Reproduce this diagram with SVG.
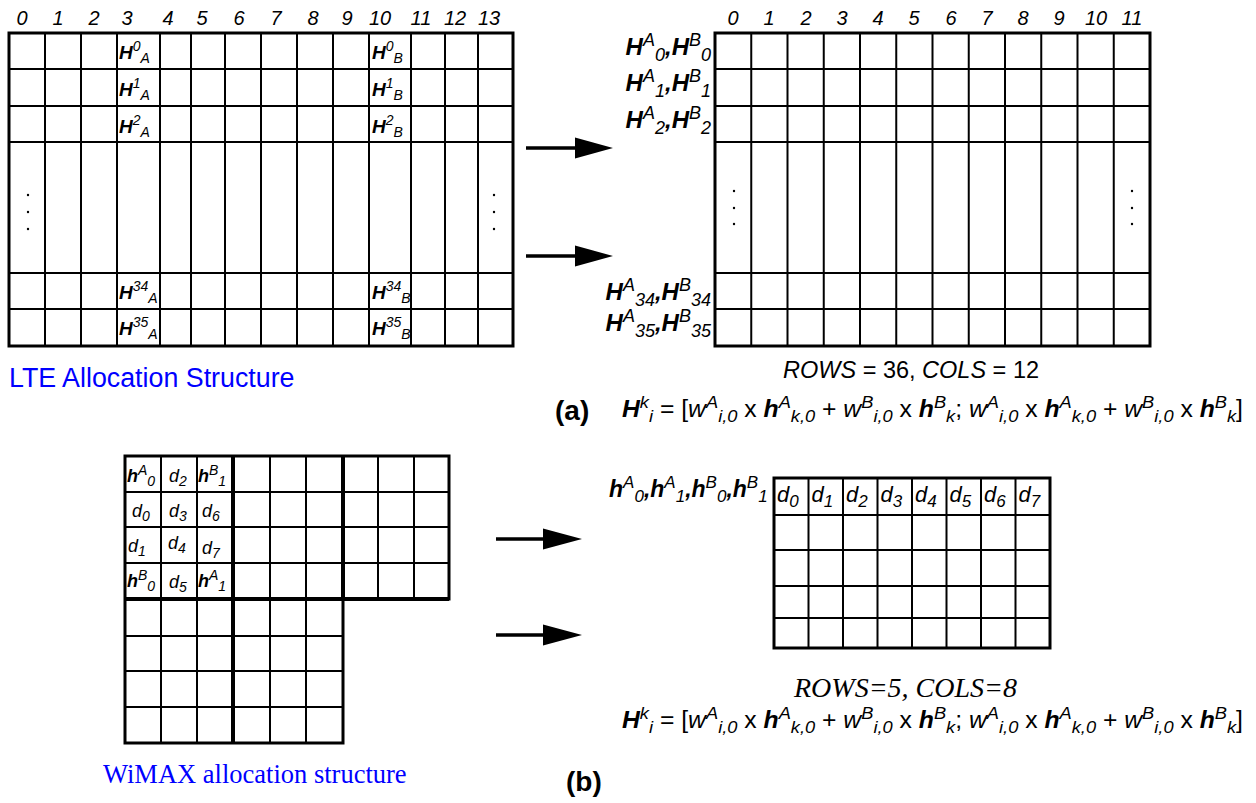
<svg xmlns="http://www.w3.org/2000/svg" width="1256" height="803" viewBox="0 0 1256 803">
<style>
.bg{fill:#fff}
.gl{stroke:#000;stroke-width:2;fill:none}
.ol{stroke:#000;stroke-width:3;fill:none}
.tk{stroke:#000;stroke-width:4;fill:none}
text{font-family:"Liberation Sans",Arial,sans-serif;fill:#000}
.hd{font-size:20px;font-style:italic}
.bi{font-weight:bold;font-style:italic}
.it{font-style:italic}
.cl{font-size:19px}
.cs{font-size:14px;font-style:italic;font-weight:normal}
.wl{font-size:18px}
.ws{font-size:14px;font-style:italic;font-weight:normal}
.rl{font-size:24px}
.rs{font-size:18px;font-style:italic;font-weight:normal}
.hl{font-size:23px}
.hs{font-size:17px;font-style:italic;font-weight:normal}
.dl{font-size:22px;font-style:italic}
.ds{font-size:17px}
.fm{font-size:23px}
.fs{font-size:17px;font-style:italic;font-weight:normal}
.lab{font-size:28px;font-weight:bold}
.blue{fill:#0000ff}
.serif{font-family:"Liberation Serif","Times New Roman",serif}
.dot{fill:#000}
.arr{stroke:#000;stroke-width:3.5}
</style>
<rect class="bg" x="0" y="0" width="1256" height="803"/>

<g id="lte-grid">
<rect class="ol" x="9" y="33" width="504" height="313"/>
<path class="gl" d="M45,33V346M81,33V346M117,33V346M160,33V346M191,33V346M225,33V346M261,33V346M297,33V346M333,33V346M369,33V346M411,33V346M445,33V346M478,33V346M9,69H513M9,106H513M9,142H513M9,273H513M9,309H513"/>
<text x="22" y="25" text-anchor="middle" class="hd">0</text>
<text x="58" y="25" text-anchor="middle" class="hd">1</text>
<text x="94" y="25" text-anchor="middle" class="hd">2</text>
<text x="127" y="25" text-anchor="middle" class="hd">3</text>
<text x="168" y="25" text-anchor="middle" class="hd">4</text>
<text x="202" y="25" text-anchor="middle" class="hd">5</text>
<text x="239" y="25" text-anchor="middle" class="hd">6</text>
<text x="276" y="25" text-anchor="middle" class="hd">7</text>
<text x="313" y="25" text-anchor="middle" class="hd">8</text>
<text x="347" y="25" text-anchor="middle" class="hd">9</text>
<text x="380" y="25" text-anchor="middle" class="hd">10</text>
<text x="421" y="25" text-anchor="middle" class="hd">11</text>
<text x="455" y="25" text-anchor="middle" class="hd">12</text>
<text x="489" y="25" text-anchor="middle" class="hd">13</text>
<text class="cl" x="119" y="59"><tspan class="bi">H</tspan><tspan class="cs" dy="-8">0</tspan><tspan class="cs" dy="12">A</tspan></text>
<text class="cl" x="119" y="96"><tspan class="bi">H</tspan><tspan class="cs" dy="-8">1</tspan><tspan class="cs" dy="12">A</tspan></text>
<text class="cl" x="119" y="133"><tspan class="bi">H</tspan><tspan class="cs" dy="-8">2</tspan><tspan class="cs" dy="12">A</tspan></text>
<text class="cl" x="119" y="299"><tspan class="bi">H</tspan><tspan class="cs" dy="-8">34</tspan><tspan class="cs" dy="12">A</tspan></text>
<text class="cl" x="119" y="335"><tspan class="bi">H</tspan><tspan class="cs" dy="-8">35</tspan><tspan class="cs" dy="12">A</tspan></text>
<text class="cl" x="372" y="59"><tspan class="bi">H</tspan><tspan class="cs" dy="-8">0</tspan><tspan class="cs" dy="12">B</tspan></text>
<text class="cl" x="372" y="96"><tspan class="bi">H</tspan><tspan class="cs" dy="-8">1</tspan><tspan class="cs" dy="12">B</tspan></text>
<text class="cl" x="372" y="133"><tspan class="bi">H</tspan><tspan class="cs" dy="-8">2</tspan><tspan class="cs" dy="12">B</tspan></text>
<text class="cl" x="372" y="299"><tspan class="bi">H</tspan><tspan class="cs" dy="-8">34</tspan><tspan class="cs" dy="12">B</tspan></text>
<text class="cl" x="372" y="335"><tspan class="bi">H</tspan><tspan class="cs" dy="-8">35</tspan><tspan class="cs" dy="12">B</tspan></text>
<circle class="dot" cx="28" cy="195" r="1.2"/><circle class="dot" cx="28" cy="212" r="1.2"/><circle class="dot" cx="28" cy="229" r="1.2"/>
<circle class="dot" cx="494" cy="195" r="1.2"/><circle class="dot" cx="494" cy="212" r="1.2"/><circle class="dot" cx="494" cy="229" r="1.2"/>
<text x="9" y="387" class="blue" font-size="26.8">LTE Allocation Structure</text>
</g>

<g id="lte-result">
<rect class="ol" x="715" y="33" width="435" height="313"/>
<path class="gl" d="M751.25,33V346M787.5,33V346M823.75,33V346M860,33V346M896.25,33V346M932.5,33V346M968.75,33V346M1005,33V346M1041.25,33V346M1077.5,33V346M1113.75,33V346M715,69H1150M715,106H1150M715,142H1150M715,273H1150M715,309H1150"/>
<text x="733" y="25" text-anchor="middle" class="hd">0</text>
<text x="769" y="25" text-anchor="middle" class="hd">1</text>
<text x="806" y="25" text-anchor="middle" class="hd">2</text>
<text x="842" y="25" text-anchor="middle" class="hd">3</text>
<text x="878" y="25" text-anchor="middle" class="hd">4</text>
<text x="914" y="25" text-anchor="middle" class="hd">5</text>
<text x="951" y="25" text-anchor="middle" class="hd">6</text>
<text x="987" y="25" text-anchor="middle" class="hd">7</text>
<text x="1023" y="25" text-anchor="middle" class="hd">8</text>
<text x="1059" y="25" text-anchor="middle" class="hd">9</text>
<text x="1096" y="25" text-anchor="middle" class="hd">10</text>
<text x="1132" y="25" text-anchor="middle" class="hd">11</text>
<text class="rl" x="711" y="55" text-anchor="end"><tspan class="bi">H</tspan><tspan class="rs" dy="-9">A</tspan><tspan class="rs" dy="15">0</tspan><tspan class="bi" dy="-6">,H</tspan><tspan class="rs" dy="-9">B</tspan><tspan class="rs" dy="15">0</tspan></text>
<text class="rl" x="711" y="91" text-anchor="end"><tspan class="bi">H</tspan><tspan class="rs" dy="-9">A</tspan><tspan class="rs" dy="15">1</tspan><tspan class="bi" dy="-6">,H</tspan><tspan class="rs" dy="-9">B</tspan><tspan class="rs" dy="15">1</tspan></text>
<text class="rl" x="711" y="128" text-anchor="end"><tspan class="bi">H</tspan><tspan class="rs" dy="-9">A</tspan><tspan class="rs" dy="15">2</tspan><tspan class="bi" dy="-6">,H</tspan><tspan class="rs" dy="-9">B</tspan><tspan class="rs" dy="15">2</tspan></text>
<text class="rl" x="711" y="300" text-anchor="end"><tspan class="bi">H</tspan><tspan class="rs" dy="-9">A</tspan><tspan class="rs" dy="15">34</tspan><tspan class="bi" dy="-6">,H</tspan><tspan class="rs" dy="-9">B</tspan><tspan class="rs" dy="15">34</tspan></text>
<text class="rl" x="711" y="331" text-anchor="end"><tspan class="bi">H</tspan><tspan class="rs" dy="-9">A</tspan><tspan class="rs" dy="15">35</tspan><tspan class="bi" dy="-6">,H</tspan><tspan class="rs" dy="-9">B</tspan><tspan class="rs" dy="15">35</tspan></text>
<circle class="dot" cx="734" cy="191" r="1.2"/><circle class="dot" cx="734" cy="208" r="1.2"/><circle class="dot" cx="734" cy="224" r="1.2"/>
<circle class="dot" cx="1132" cy="191" r="1.2"/><circle class="dot" cx="1132" cy="208" r="1.2"/><circle class="dot" cx="1132" cy="224" r="1.2"/>
<text x="783" y="378" font-size="23.5"><tspan class="it">ROWS</tspan> = 36, <tspan class="it">COLS</tspan> = 12</text>
<text x="555" y="420" class="lab">(a)</text>
<text class="fm" x="622" y="417" textLength="621" lengthAdjust="spacingAndGlyphs"><tspan class="bi">H</tspan><tspan class="fs" dy="-9">k</tspan><tspan class="fs" dy="14">i</tspan><tspan dy="-5"> = [</tspan><tspan class="it">w</tspan><tspan class="fs" dy="-9">A</tspan><tspan class="fs" dy="14">i,0</tspan><tspan dy="-5"> x </tspan><tspan class="bi">h</tspan><tspan class="fs" dy="-9">A</tspan><tspan class="fs" dy="14">k,0</tspan><tspan dy="-5"> + </tspan><tspan class="it">w</tspan><tspan class="fs" dy="-9">B</tspan><tspan class="fs" dy="14">i,0</tspan><tspan dy="-5"> x </tspan><tspan class="bi">h</tspan><tspan class="fs" dy="-9">B</tspan><tspan class="fs" dy="14">k</tspan><tspan dy="-5">; </tspan><tspan class="it">w</tspan><tspan class="fs" dy="-9">A</tspan><tspan class="fs" dy="14">i,0</tspan><tspan dy="-5"> x </tspan><tspan class="bi">h</tspan><tspan class="fs" dy="-9">A</tspan><tspan class="fs" dy="14">k,0</tspan><tspan dy="-5"> + </tspan><tspan class="it">w</tspan><tspan class="fs" dy="-9">B</tspan><tspan class="fs" dy="14">i,0</tspan><tspan dy="-5"> x </tspan><tspan class="bi">h</tspan><tspan class="fs" dy="-9">B</tspan><tspan class="fs" dy="14">k</tspan><tspan dy="-5">]</tspan></text>
</g>

<g id="wimax-grid">
<path class="gl" d="M161,456V743M197,456V743M270,456V743M306,456V743M378,456V599M414,456V599M125,492H449M125,527H449M125,563H449M125,636H343M125,671H343M125,707H343"/>
<path class="tk" d="M233,456V743M343,456V599M125,599H449"/>
<path class="ol" d="M125,456H449V599H343V743H125Z" stroke-width="3.5"/>
<text class="wl" x="127" y="482"><tspan class="bi">h</tspan><tspan class="ws" dy="-7">A</tspan><tspan class="ws" dy="11">0</tspan></text>
<text class="wl it" x="169" y="482">d<tspan class="ws" dy="4">2</tspan></text>
<text class="wl" x="198" y="482"><tspan class="bi">h</tspan><tspan class="ws" dy="-7">B</tspan><tspan class="ws" dy="11">1</tspan></text>
<text class="wl it" x="132" y="517">d<tspan class="ws" dy="4">0</tspan></text>
<text class="wl it" x="169" y="517">d<tspan class="ws" dy="4">3</tspan></text>
<text class="wl it" x="202" y="517">d<tspan class="ws" dy="4">6</tspan></text>
<text class="wl it" x="128" y="552">d<tspan class="ws" dy="4">1</tspan></text>
<text class="wl it" x="168" y="549">d<tspan class="ws" dy="4">4</tspan></text>
<text class="wl it" x="202" y="554">d<tspan class="ws" dy="4">7</tspan></text>
<text class="wl" x="127" y="587"><tspan class="bi">h</tspan><tspan class="ws" dy="-7">B</tspan><tspan class="ws" dy="11">0</tspan></text>
<text class="wl it" x="169" y="588">d<tspan class="ws" dy="4">5</tspan></text>
<text class="wl" x="198" y="587"><tspan class="bi">h</tspan><tspan class="ws" dy="-7">A</tspan><tspan class="ws" dy="11" font-style="normal">1</tspan></text>
<text x="103" y="783" class="blue serif" font-size="26.5">WiMAX allocation structure</text>
</g>

<g id="wimax-result">
<rect class="ol" x="774" y="478" width="276" height="170"/>
<path class="gl" d="M808.5,478V648M843,478V648M877.5,478V648M912,478V648M946.5,478V648M981,478V648M1015.5,478V648M774,515H1050M774,550H1050M774,586H1050M774,618H1050"/>
<text class="dl" x="777" y="502">d<tspan class="ds" dy="5">0</tspan></text>
<text class="dl" x="811.5" y="502">d<tspan class="ds" dy="5">1</tspan></text>
<text class="dl" x="846" y="502">d<tspan class="ds" dy="5">2</tspan></text>
<text class="dl" x="880.5" y="502">d<tspan class="ds" dy="5">3</tspan></text>
<text class="dl" x="915" y="502">d<tspan class="ds" dy="5">4</tspan></text>
<text class="dl" x="949.5" y="502">d<tspan class="ds" dy="5">5</tspan></text>
<text class="dl" x="984" y="502">d<tspan class="ds" dy="5">6</tspan></text>
<text class="dl" x="1018.5" y="502">d<tspan class="ds" dy="5">7</tspan></text>
<text class="hl" x="609" y="497"><tspan class="bi">h</tspan><tspan class="hs" dy="-9">A</tspan><tspan class="hs" dy="14">0</tspan><tspan class="bi" dy="-5">,h</tspan><tspan class="hs" dy="-9">A</tspan><tspan class="hs" dy="14">1</tspan><tspan class="bi" dy="-5">,h</tspan><tspan class="hs" dy="-9">B</tspan><tspan class="hs" dy="14">0</tspan><tspan class="bi" dy="-5">,h</tspan><tspan class="hs" dy="-9">B</tspan><tspan class="hs" dy="14">1</tspan></text>
<text x="794" y="697" class="serif it" font-size="28">ROWS=5, COLS=8</text>
<text class="fm" x="622" y="728" textLength="621" lengthAdjust="spacingAndGlyphs"><tspan class="bi">H</tspan><tspan class="fs" dy="-9">k</tspan><tspan class="fs" dy="14">i</tspan><tspan dy="-5"> = [</tspan><tspan class="it">w</tspan><tspan class="fs" dy="-9">A</tspan><tspan class="fs" dy="14">i,0</tspan><tspan dy="-5"> x </tspan><tspan class="bi">h</tspan><tspan class="fs" dy="-9">A</tspan><tspan class="fs" dy="14">k,0</tspan><tspan dy="-5"> + </tspan><tspan class="it">w</tspan><tspan class="fs" dy="-9">B</tspan><tspan class="fs" dy="14">i,0</tspan><tspan dy="-5"> x </tspan><tspan class="bi">h</tspan><tspan class="fs" dy="-9">B</tspan><tspan class="fs" dy="14">k</tspan><tspan dy="-5">; </tspan><tspan class="it">w</tspan><tspan class="fs" dy="-9">A</tspan><tspan class="fs" dy="14">i,0</tspan><tspan dy="-5"> x </tspan><tspan class="bi">h</tspan><tspan class="fs" dy="-9">A</tspan><tspan class="fs" dy="14">k,0</tspan><tspan dy="-5"> + </tspan><tspan class="it">w</tspan><tspan class="fs" dy="-9">B</tspan><tspan class="fs" dy="14">i,0</tspan><tspan dy="-5"> x </tspan><tspan class="bi">h</tspan><tspan class="fs" dy="-9">B</tspan><tspan class="fs" dy="14">k</tspan><tspan dy="-5">]</tspan></text>
<text x="566" y="791" class="lab">(b)</text>
</g>

<g id="connectors">
<line class="arr" x1="526" y1="148" x2="577" y2="148"/><polygon points="575,137.5 613,148 575,158.5"/>
<line class="arr" x1="526" y1="256" x2="577" y2="256"/><polygon points="575,245.5 613,256 575,266.5"/>
<line class="arr" x1="496" y1="539" x2="545" y2="539"/><polygon points="543,528.5 582,539 543,549.5"/>
<line class="arr" x1="496" y1="635" x2="545" y2="635"/><polygon points="543,624.5 582,635 543,645.5"/>
</g>
</svg>
